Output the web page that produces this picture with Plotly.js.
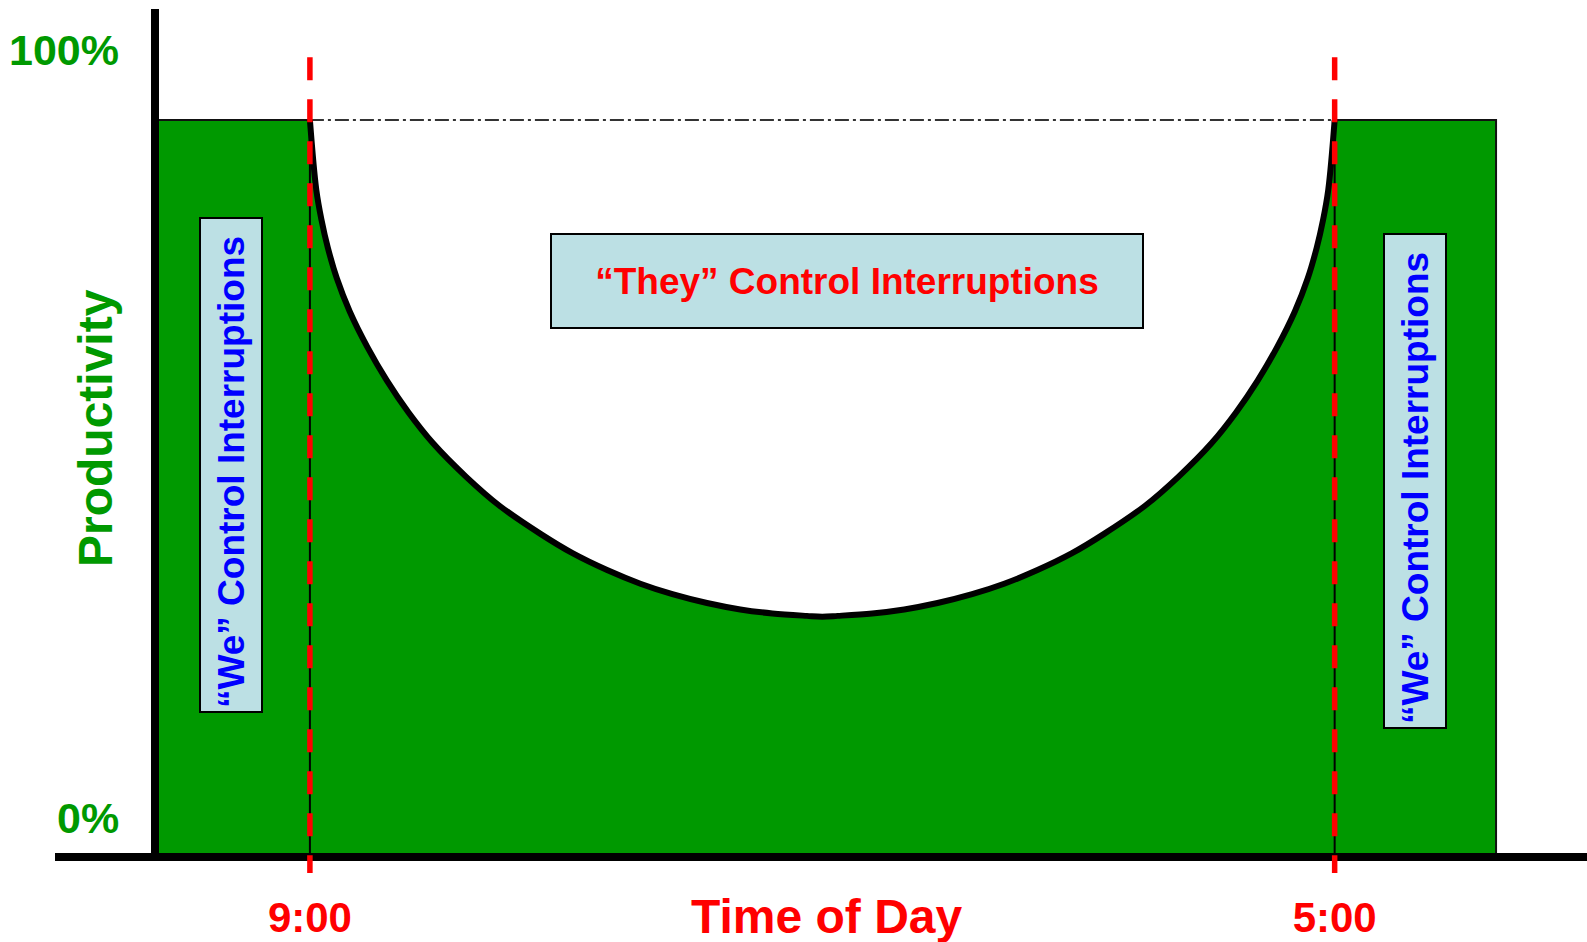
<!DOCTYPE html>
<html>
<head>
<meta charset="utf-8">
<script src="https://cdn.plot.ly/plotly-3.0.1.min.js"></script>
<style>html,body{margin:0;padding:0;background:#fff;}#chart{width:1587px;height:942px;}</style>
</head>
<body>
<div id="chart"></div>
<script>
// ---- data (hours of day, productivity %) ----
const hours = [9.0, 9.05, 9.09, 9.14, 9.21, 9.31, 9.45, 9.6, 9.77, 9.96, 10.22, 10.48, 10.8, 11.05,
               11.32, 11.58, 11.83, 12.1, 12.36, 12.61, 12.88, 13.0,
               13.12, 13.39, 13.64, 13.9, 14.17, 14.42, 14.68, 14.95, 15.2, 15.52, 15.78, 16.04,
               16.23, 16.4, 16.55, 16.69, 16.79, 16.86, 16.91, 16.95, 17.0];
const productivity = [91.2, 82.5, 78.8, 75.3, 71.5, 67.4, 62.9, 58.8, 54.8, 51.0, 46.8, 43.2, 39.7, 37.3,
                      35.2, 33.5, 32.2, 31.1, 30.3, 29.8, 29.5, 29.4,
                      29.5, 29.8, 30.3, 31.1, 32.2, 33.5, 35.2, 37.3, 39.7, 43.2, 46.8, 51.0,
                      54.8, 58.8, 62.9, 67.4, 71.5, 75.3, 78.8, 82.5, 91.2];
const plateau = 91.2;
const dayBounds = [9, 17];
const workBounds = [7.78, 18.26];
const tickHours = [9, 17];
const tickLabels = ['9:00', '5:00'];
const markerSpan = [99, -2.5];
const yLabelTexts = ['100%', '0%'];
const boxTexts = ['\u201CWe\u201D Control Interruptions', '\u201CThey\u201D Control Interruptions'];
const axisTexts = ['Productivity', 'Time of Day'];

// ---- styling ----
const GREEN = '#009900', RED = '#ff0000', BLUE = '#0000ff', BOX = '#bce0e4';
const FONT = 'Liberation Sans, Arial, Helvetica, sans-serif';
const W = 1587, H = 942;
const px = v => v / W, py = v => 1 - v / H;

const traces = [
  { x: [workBounds[0], dayBounds[0]], y: [plateau, plateau], mode: 'lines', fill: 'tozeroy',
    fillcolor: GREEN, line: {color: '#111', width: 2}, xaxis: 'x', yaxis: 'y' },
  { x: [dayBounds[1], workBounds[1], workBounds[1]], y: [plateau, plateau, 0], mode: 'lines', fill: 'tozeroy',
    fillcolor: GREEN, line: {color: '#111', width: 2}, xaxis: 'x', yaxis: 'y' },
  { x: hours, y: productivity, mode: 'lines', fill: 'tozeroy', fillcolor: GREEN,
    line: {color: 'rgba(0,0,0,0)', width: 0, shape: 'spline', smoothing: 1}, xaxis: 'x', yaxis: 'y' },
  { x: [dayBounds[0], dayBounds[0], null, dayBounds[1], dayBounds[1]], y: [0, plateau, null, 0, plateau],
    mode: 'lines', line: {color: '#000', width: 2}, xaxis: 'x', yaxis: 'y' },
  { x: dayBounds, y: [plateau, plateau], mode: 'lines',
    line: {color: '#333', width: 2, dash: '14px,4px,3px,4px'}, xaxis: 'x', yaxis: 'y' },
  { x: hours, y: productivity, mode: 'lines',
    line: {color: '#000', width: 6, shape: 'spline', smoothing: 1}, xaxis: 'x', yaxis: 'y' },
  { x: [tickHours[0], tickHours[0], null, tickHours[1], tickHours[1]],
    y: [markerSpan[0], markerSpan[1], null, markerSpan[0], markerSpan[1]],
    mode: 'lines', line: {color: RED, width: 5.5, dash: '23px,19px'}, xaxis: 'x', yaxis: 'y2' }
];

const layout = {
  width: W, height: H,
  margin: {l: 0, r: 0, t: 0, b: 0, pad: 0},
  paper_bgcolor: '#fff', plot_bgcolor: 'rgba(0,0,0,0)',
  showlegend: false,
  xaxis: {
    domain: [px(55), 1], range: [7.01, 18.97], anchor: 'y',
    showline: true, linecolor: '#000', linewidth: 8,
    showgrid: false, zeroline: false, ticks: '',
    tickvals: tickHours, ticktext: tickLabels, ticklabelstandoff: 21,
    tickfont: {family: FONT, size: 42, color: RED, weight: 'bold'}
  },
  yaxis: {
    domain: [1 - 853 / H, 1 - 9 / H], range: [0, 105], anchor: 'free', position: px(155),
    showline: true, linecolor: '#000', linewidth: 8,
    showgrid: false, zeroline: false, ticks: '', showticklabels: false
  },
  yaxis2: {
    domain: [0, 1 - 9 / H], range: [-11.07, 105], anchor: 'x', visible: false,
    showgrid: false, zeroline: false
  },
  annotations: [
    {text: yLabelTexts[0], xref: 'paper', yref: 'paper', x: px(121), y: py(50), xanchor: 'right', yanchor: 'middle',
     showarrow: false, font: {family: FONT, size: 43, color: GREEN, weight: 'bold'}},
    {text: yLabelTexts[1], xref: 'paper', yref: 'paper', x: px(121), y: py(818), xanchor: 'right', yanchor: 'middle',
     showarrow: false, font: {family: FONT, size: 43, color: GREEN, weight: 'bold'}},
    {text: axisTexts[0], xref: 'paper', yref: 'paper', x: px(95), y: py(428), xanchor: 'center', yanchor: 'middle',
     textangle: -90, showarrow: false, font: {family: FONT, size: 48, color: GREEN, weight: 'bold'}},
    {text: axisTexts[1], xref: 'paper', yref: 'paper', x: px(827), y: py(916), xanchor: 'center', yanchor: 'middle',
     showarrow: false, font: {family: FONT, size: 48, color: RED, weight: 'bold'}},
    {text: boxTexts[0], xref: 'paper', yref: 'paper', x: px(231), y: py(465), xanchor: 'center', yanchor: 'middle',
     textangle: -90, width: 486, height: 54, borderpad: 3, borderwidth: 2, bordercolor: '#000', bgcolor: BOX,
     align: 'left', showarrow: false, font: {family: FONT, size: 37, color: BLUE, weight: 'bold'}},
    {text: boxTexts[0], xref: 'paper', yref: 'paper', x: px(1415), y: py(481), xanchor: 'center', yanchor: 'middle',
     textangle: -90, width: 486, height: 54, borderpad: 3, borderwidth: 2, bordercolor: '#000', bgcolor: BOX,
     align: 'left', showarrow: false, font: {family: FONT, size: 37, color: BLUE, weight: 'bold'}},
    {text: boxTexts[1], xref: 'paper', yref: 'paper', x: px(847), y: py(281), xanchor: 'center', yanchor: 'middle',
     width: 590, height: 92, borderpad: 0, borderwidth: 2, bordercolor: '#000', bgcolor: BOX,
     showarrow: false, font: {family: FONT, size: 37, color: RED, weight: 'bold'}}
  ]
};

Plotly.newPlot('chart', traces, layout, {staticPlot: true, displayModeBar: false});
</script>
</body>
</html>
